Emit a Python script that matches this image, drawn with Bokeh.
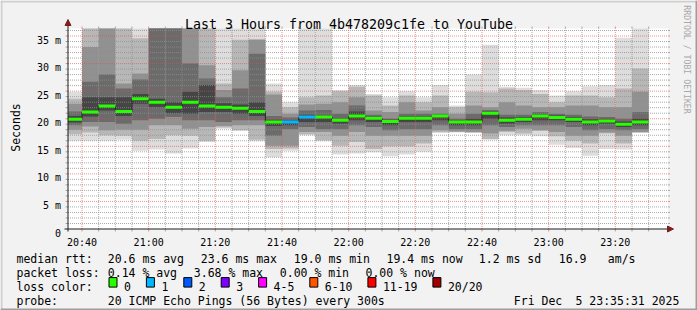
from datetime import datetime
from math import pi

from bokeh.plotting import figure
from bokeh.models import Range1d, Label, BoxAnnotation, Arrow, NormalHead
from bokeh.core.properties import value
from bokeh.embed import file_html
from bokeh.resources import INLINE

# ---------------- data ----------------
title_text = "Last 3 Hours from 4b478209c1fe to YouTube"
day = "2025-12-05"
window_start = "20:35:48"
window_end = "23:35:48"
step_seconds = 300

bin_start = ["20:35", "20:40", "20:45", "20:50", "20:55", "21:00", "21:05", "21:10",
             "21:15", "21:20", "21:25", "21:30", "21:35", "21:40", "21:45", "21:50",
             "21:55", "22:00", "22:05", "22:10", "22:15", "22:20", "22:25", "22:30",
             "22:35", "22:40", "22:45", "22:50", "22:55", "23:00", "23:05", "23:10",
             "23:15", "23:20", "23:25"]

median_ms = [19.9, 21.2, 22.3, 21.3, 23.6, 23.0, 22.1, 23.0, 22.3, 22.1, 21.9, 21.3,
             19.4, 19.4, 20.3, 20.3, 19.7, 20.5, 20.1, 19.5, 20.1, 20.1, 20.5, 19.4,
             19.4, 21.0, 19.7, 19.9, 20.5, 20.2, 19.9, 19.4, 19.6, 19.0, 19.4]

lost_pings = [0, 0, 0, 0, 0, 0, 0, 0, 0, 0, 0, 0,
              0, 1, 1, 0, 0, 0, 0, 0, 0, 0, 0, 0,
              0, 0, 0, 0, 0, 0, 0, 0, 0, 0, 0]

# smoke: upper edges of the ping-pair bands (outermost -> innermost)
hi1 = [24.9, 40.0, 42.0, 39.0, 38.0, 45.0, 45.0, 42.0, 40.0, 38.0, 38.0, 38.0,
       26.4, 23.0, 37.5, 37.5, 25.2, 26.1, 24.5, 23.9, 25.0, 23.9, 26.1, 22.4,
       28.0, 33.4, 25.8, 25.6, 25.2, 24.2, 25.0, 25.9, 26.1, 34.7, 38.0]
hi2 = [23.6, 38.0, 39.0, 37.5, 34.6, 42.0, 42.0, 39.0, 38.0, 26.4, 34.3, 34.4,
       24.9, 22.1, 23.9, 24.2, 25.0, 25.8, 24.2, 22.4, 24.2, 23.0, 24.2, 22.1,
       24.9, 24.8, 25.5, 25.2, 24.5, 23.0, 24.2, 24.2, 23.9, 25.5, 29.1]
hi3 = [22.7, 33.0, 37.0, 26.4, 28.2, 40.0, 40.0, 37.0, 29.7, 25.2, 28.8, 34.3,
       24.4, 20.9, 22.6, 22.7, 23.0, 23.9, 21.5, 21.2, 23.0, 21.5, 22.1, 20.9,
       22.4, 22.1, 23.0, 22.4, 22.1, 22.1, 22.4, 22.4, 22.1, 22.1, 24.9]
hi4 = [21.3, 26.7, 28.0, 25.5, 27.1, 38.0, 38.0, 30.0, 27.3, 23.9, 25.5, 31.8,
       20.5, 20.2, 21.5, 21.6, 20.9, 22.4, 20.7, 20.0, 20.9, 20.9, 20.9, 20.0,
       20.9, 21.6, 20.7, 20.7, 21.2, 20.9, 20.7, 20.4, 20.3, 20.0, 21.2]
hi5 = [20.5, 23.9, 23.9, 23.9, 24.5, 23.6, 23.0, 24.9, 26.1, 22.8, 22.6, 23.0,
       19.8, 19.7, 20.7, 20.6, 20.0, 21.3, 20.4, 19.8, 20.4, 20.4, 20.7, 19.7,
       20.0, 21.3, 20.2, 20.3, 20.8, 20.6, 20.3, 19.9, 20.0, 19.5, 20.0]
# smoke: lower edges (outermost -> innermost)
lo1 = [16.0, 16.0, 16.0, 16.2, 14.2, 14.4, 13.7, 14.6, 15.8, 18.2, 17.8, 15.9,
       13.0, 14.2, 17.0, 15.9, 13.5, 13.7, 13.9, 13.2, 13.5, 14.0, 17.4, 17.5,
       17.4, 16.2, 17.0, 17.0, 16.8, 15.3, 14.7, 13.3, 14.5, 14.4, 17.4]
lo2 = [17.2, 17.5, 17.0, 16.9, 16.0, 16.3, 17.0, 16.9, 16.0, 18.4, 17.9, 16.2,
       14.5, 14.6, 17.2, 16.1, 15.1, 15.8, 14.5, 15.0, 15.0, 15.5, 17.6, 17.6,
       17.5, 16.3, 17.6, 17.3, 17.8, 16.8, 16.0, 15.5, 17.3, 15.5, 17.5]
lo3 = [18.0, 18.6, 17.9, 18.0, 18.0, 18.8, 18.8, 18.2, 18.5, 18.7, 18.8, 18.8,
       15.1, 15.1, 17.6, 17.6, 16.9, 17.6, 16.9, 16.9, 16.9, 16.9, 17.9, 17.7,
       17.6, 17.3, 17.8, 18.2, 17.9, 17.6, 16.9, 16.9, 17.5, 16.9, 17.6]
lo4 = [18.8, 19.4, 19.4, 19.1, 19.7, 20.0, 20.3, 19.7, 19.7, 19.4, 19.7, 19.7,
       16.9, 18.1, 18.5, 18.1, 18.1, 18.8, 18.5, 17.9, 18.1, 18.1, 18.8, 18.1,
       18.1, 18.8, 18.5, 18.8, 18.8, 18.8, 18.5, 17.9, 18.1, 17.9, 18.1]
lo5 = [19.3, 20.4, 21.5, 20.5, 22.7, 22.1, 21.0, 20.9, 21.2, 21.2, 20.9, 20.5,
       18.7, 18.8, 19.4, 19.4, 19.1, 19.7, 19.4, 18.8, 19.4, 19.4, 19.7, 18.8,
       18.8, 20.0, 19.1, 19.4, 19.7, 19.7, 19.4, 18.8, 19.1, 18.5, 18.8]

y_ticks = [0, 5, 10, 15, 20, 25, 30, 35]
y_tick_labels = ["0", "5 m", "10 m", "15 m", "20 m", "25 m", "30 m", "35 m"]
y_minor_ticks = [1, 2, 3, 4, 6, 7, 8, 9, 11, 12, 13, 14, 16, 17, 18, 19, 21, 22, 23, 24,
                 26, 27, 28, 29, 31, 32, 33, 34, 36]
x_tick_times = ["20:40", "21:00", "21:20", "21:40", "22:00", "22:20", "22:40", "23:00", "23:20"]

loss_labels = ["0", "1", "2", "3", "4-5", "6-10", "11-19", "20/20"]
loss_upper = [0, 1, 2, 3, 5, 10, 19, 20]
loss_colors = ["#26ff00", "#00b8ff", "#0059ff", "#7e00ff", "#ff00ff", "#ff5500", "#ff0000", "#a10000"]

rtt_line = ["20.6 ms avg", "23.6 ms max", "19.0 ms min", "19.4 ms now", "1.2 ms sd", "16.9", "am/s"]
loss_line = ["0.14 % avg", "3.68 % max", "0.00 % min", "0.00 % now"]
probe_text = "20 ICMP Echo Pings (56 Bytes) every 300s"
stamp_parts = ["Fri Dec", "5 23:35:31 2025"]
watermark = "RRDTOOL / TOBI OETIKER"

# ---------------- helpers ----------------
EPOCH = datetime(1970, 1, 1)


def ms(hms):
    fmt = "%Y-%m-%d %H:%M:%S" if hms.count(":") == 2 else "%Y-%m-%d %H:%M"
    return (datetime.strptime(f"{day} {hms}", fmt) - EPOCH).total_seconds() * 1000.0


t0, t1 = ms(window_start), ms(window_end)
starts = [ms(s) for s in bin_start]
ends = [s + step_seconds * 1000.0 for s in starts]


def loss_color(n):
    for up, c in zip(loss_upper, loss_colors):
        if n <= up:
            return c
    return loss_colors[-1]


med_colors = [loss_color(n) for n in lost_pings]

# rrdtool canvas geometry (pixels): plot area 600 x 200
W, H = 697, 310
AX_X, AX_Y = 67.5, 228.5           # pixel centres of the y axis column / x axis row
PX_PER_MS_T = 600.0 / (t1 - t0)
PX_PER_UNIT_Y = 5.514
MONO = "DejaVu Sans Mono"
GRID_C, GRID_A = "#8f8f8f", 0.75
MGRID_C, MGRID_A = "#de4f4f", 0.6


def X(px):
    return t0 + (px - AX_X) / PX_PER_MS_T


def Y(py):
    return (AX_Y - py) / PX_PER_UNIT_Y


y_top = Y(28)

# ---------------- figure (frame = whole canvas) ----------------
p = figure(width=W, height=H, x_range=Range1d(X(0), X(W)), y_range=Range1d(Y(H), Y(0)),
           output_backend="svg", toolbar_location=None,
           x_axis_location=None, y_axis_location=None, min_border=0,
           background_fill_color="#f2f2f2", border_fill_color="#f2f2f2",
           outline_line_color=None)
p.grid.visible = False
p.title.visible = False

# white canvas of the graph
p.quad(left=[t0], right=[t1], bottom=[0], top=[y_top], fill_color="#ffffff", line_color=None)

# smoke bands, outermost first (clipped to the graph area)
band_colors = ["#dddddd", "#b7b7b7", "#919191", "#6b6b6b", "#454545"]
left_c = [max(s, t0) for s in starts]
for top, bot, col in zip([hi1, hi2, hi3, hi4, hi5], [lo1, lo2, lo3, lo4, lo5], band_colors):
    p.quad(left=left_c, right=ends, top=[min(v, y_top) for v in top], bottom=bot,
           fill_color=col, line_color=None)

# grid (drawn over the smoke, as rrdtool does) + 2px ticks outside the canvas
x_major = [ms(t) for t in x_tick_times]
x_minor = [s for s in starts + [ends[-1]] if s not in x_major and t0 < s < t1]
for xs, c, a in ((x_minor, GRID_C, GRID_A), (x_major, MGRID_C, MGRID_A)):
    n = len(xs)
    p.segment(x0=xs, x1=xs, y0=[0] * n, y1=[y_top] * n, line_color=c,
              line_alpha=a, line_dash="1 1", line_width=1)
    p.segment(x0=xs, x1=xs, y0=[Y(228.5)] * n, y1=[Y(231)] * n, line_color=c,
              line_alpha=a, line_width=1)
    p.segment(x0=xs, x1=xs, y0=[Y(28)] * n, y1=[Y(26)] * n, line_color=c,
              line_alpha=a, line_width=1)
for ys, c, a in ((y_minor_ticks, GRID_C, GRID_A), (y_ticks[1:], MGRID_C, MGRID_A)):
    n = len(ys)
    p.segment(x0=[t0] * n, x1=[t1] * n, y0=ys, y1=ys, line_color=c,
              line_alpha=a, line_dash="1 1", line_width=1)
    p.segment(x0=[X(65)] * n, x1=[t0] * n, y0=ys, y1=ys, line_color=c,
              line_alpha=a, line_width=1)
    p.segment(x0=[t1] * n, x1=[X(669.5)] * n, y0=ys, y1=ys, line_color=c,
              line_alpha=a, line_width=1)

# median step line + loss-coloured median bars
p.segment(x0=starts[1:], x1=starts[1:], y0=median_ms[:-1], y1=median_ms[1:],
          line_color="#202020", line_width=1)
p.segment(x0=left_c, x1=ends, y0=median_ms, y1=median_ms,
          line_color=med_colors, line_width=3)

# axes with arrows
head_x = NormalHead(size=6, fill_color="#801f1f", line_color="#801f1f")
head_y = NormalHead(size=6, fill_color="#801f1f", line_color="#801f1f")
p.add_layout(Arrow(x_start=X(64), y_start=0, x_end=X(673), y_end=0,
                   line_color="#1f1f1f", line_width=1, end=head_x))
p.add_layout(Arrow(x_start=t0, y_start=Y(231), x_end=t0, y_end=Y(19),
                   line_color="#1f1f1f", line_width=1, end=head_y))

# tick labels
p.text(x=x_major, y=[0] * len(x_major), text=x_tick_times, text_align="center",
       text_baseline="alphabetic", y_offset=13, text_font=value(MONO),
       text_font_size="10px", text_color="#000000")
p.text(x=[t0] * len(y_ticks), y=y_ticks, text=y_tick_labels, text_align="right",
       text_baseline="alphabetic", x_offset=-7, y_offset=4, text_font=value(MONO),
       text_font_size="10px", text_color="#000000")


def lab(px, py, s, size="11.5px", align="left", baseline="alphabetic", angle=0.0,
        color="#000000"):
    p.add_layout(Label(x=X(px), y=Y(py), text=s, text_align=align,
                       text_baseline=baseline, text_font=MONO, angle=angle,
                       text_font_size=size, text_color=color))


lab(348.5, 24, title_text, size="13.3px", align="center")
lab(15, 127, "Seconds", size="11.5px", align="center", angle=pi / 2)
lab(686.5, 59, watermark, size="8.2px", align="center", baseline="middle",
    angle=-pi / 2, color="#a8a8a8")

LB = [258.3, 272.2, 286.1, 300.0]
lab(16, LB[0], "median rtt:")
for px, s in zip([107.3, 200.3, 293.3, 386.0, 478.3, 558.3, 607.3], rtt_line):
    lab(px, LB[0], s)
lab(16, LB[1], "packet loss:")
for px, s in zip([107.3, 193.3, 279.3, 365.0], loss_line):
    lab(px, LB[1], s)
lab(16, LB[2], "loss color:")
cur = 108.5
for name, col in zip(loss_labels, loss_colors):
    p.add_layout(BoxAnnotation(left=X(cur), right=X(cur + 8), top=Y(LB[2] - 9),
                               bottom=Y(LB[2] + 0.5), fill_color=col, fill_alpha=1.0,
                               line_color="#000000", line_alpha=1.0, line_width=1))
    lab(cur + 15, LB[2], name)
    cur = cur + 15 + len(name) * 6.9 + 15.5
lab(16, LB[3], "probe:")
lab(107.3, LB[3], probe_text)
lab(513.3, LB[3], stamp_parts[0])
lab(575.0, LB[3], stamp_parts[1])

# 3-D frame of the rrdtool canvas
for l, r, t, b, c in [(0, 2, 0, 310, "#cfcfcf"), (0, 697, 0, 2, "#cfcfcf"),
                      (695, 697, 0, 310, "#9e9e9e"), (0, 697, 308, 310, "#9e9e9e")]:
    p.add_layout(BoxAnnotation(left=X(l), right=X(r), top=Y(t), bottom=Y(b),
                               fill_color=c, fill_alpha=1.0, line_color=None))

open("out.html", "w").write(file_html(p, INLINE))
